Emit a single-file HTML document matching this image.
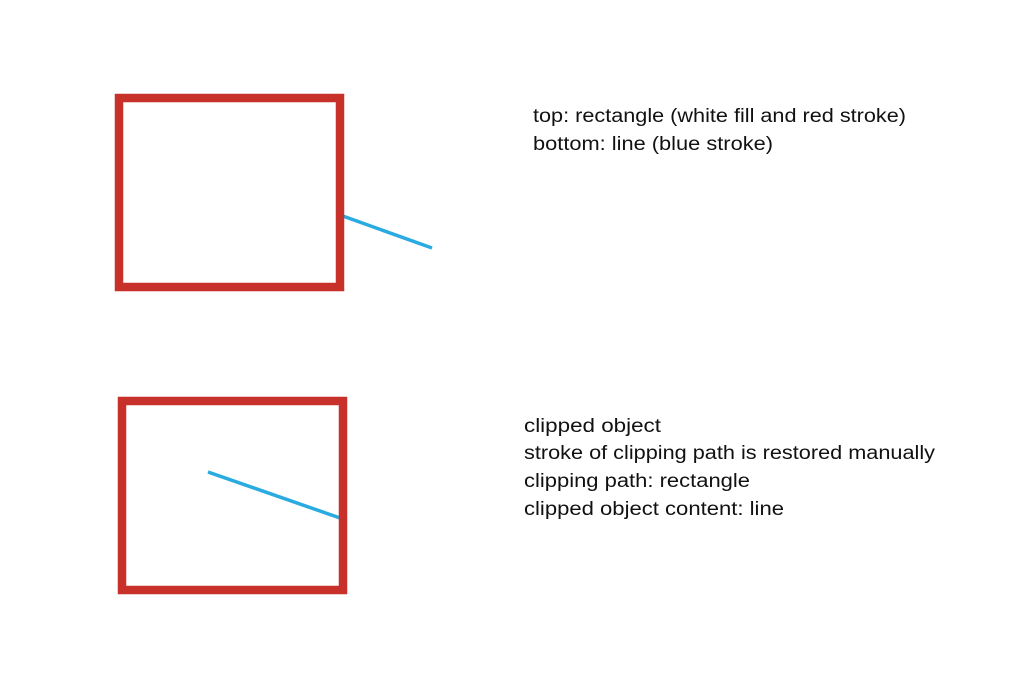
<!DOCTYPE html>
<html><head><meta charset="utf-8"><style>html,body{margin:0;padding:0;background:#fff}svg{display:block}</style></head>
<body>
<svg width="1032" height="696" viewBox="0 0 1032 696" xmlns="http://www.w3.org/2000/svg">
<rect width="1032" height="696" fill="#fff"/>
<line x1="340" y1="215" x2="432" y2="248" stroke="#29abe2" stroke-width="3.5"/>
<rect x="119" y="98" width="221" height="189" fill="none" stroke="#c8302a" stroke-width="8.5"/>
<line x1="208" y1="472" x2="340" y2="518" stroke="#29abe2" stroke-width="3.5"/>
<rect x="122" y="401" width="221" height="189" fill="none" stroke="#c8302a" stroke-width="8.5"/>
<g font-family="Liberation Sans, sans-serif" font-size="19" fill="#111">
<text x="533" y="122" textLength="373" lengthAdjust="spacingAndGlyphs">top: rectangle (white fill and red stroke)</text>
<text x="533" y="150" textLength="240" lengthAdjust="spacingAndGlyphs">bottom: line (blue stroke)</text>
<text x="524" y="432" textLength="137" lengthAdjust="spacingAndGlyphs">clipped object</text>
<text x="524" y="459" textLength="411" lengthAdjust="spacingAndGlyphs">stroke of clipping path is restored manually</text>
<text x="524" y="487" textLength="226" lengthAdjust="spacingAndGlyphs">clipping path: rectangle</text>
<text x="524" y="515" textLength="260" lengthAdjust="spacingAndGlyphs">clipped object content: line</text>
</g>
</svg>
</body></html>
